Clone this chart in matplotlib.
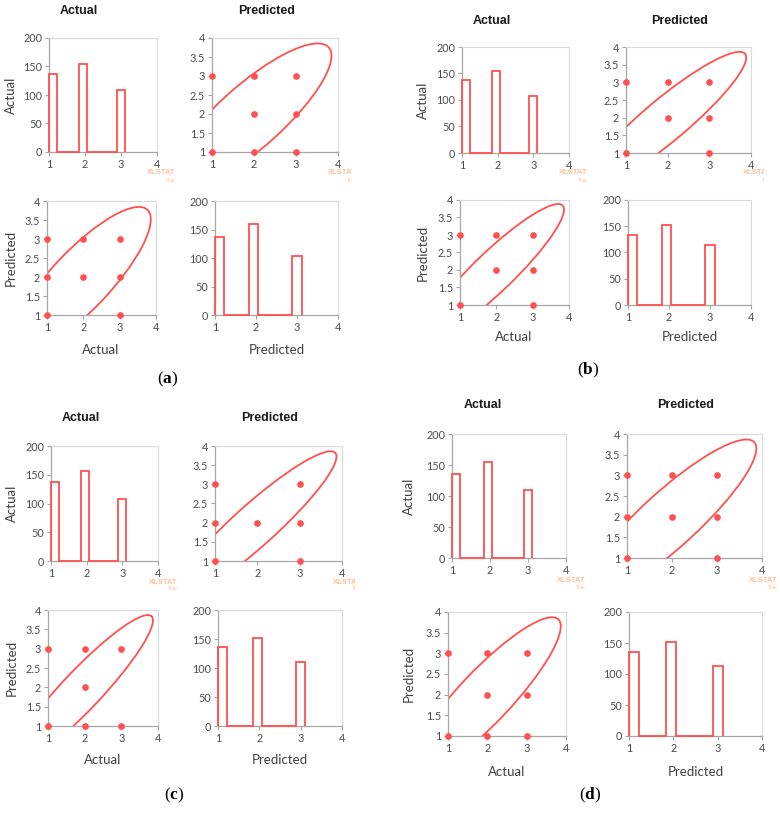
import numpy as np
import matplotlib
matplotlib.use('Agg')
import matplotlib.pyplot as plt
from matplotlib.patches import Ellipse
from matplotlib.ticker import FuncFormatter
from matplotlib.transforms import Bbox, TransformedBbox

# ---------------- data ----------------
class_values = [1, 2, 3]
bin_edges = [1.0, 1.22, 1.84, 2.06, 2.89, 3.11]
x_ticks = [1, 2, 3, 4]
hist_yticks = [0, 50, 100, 150, 200]
scatter_yticks = [1, 1.5, 2, 2.5, 3, 3.5, 4]

actual_counts_a = [137, 155, 108]
predicted_counts_a = [137, 160, 103]
actual_counts_b = [137, 155, 108]
predicted_counts_b = [134, 152, 114]
actual_counts_c = [137, 156, 107]
predicted_counts_c = [137, 152, 110]
actual_counts_d = [135, 155, 110]
predicted_counts_d = [135, 152, 113]

pair_actual_a = [1, 2, 3, 1, 2, 3, 1, 3]
pair_predicted_a = [3, 3, 3, 2, 2, 2, 1, 1]
pair_actual_b = [1, 2, 3, 2, 3, 1, 3]
pair_predicted_b = [3, 3, 3, 2, 2, 1, 1]
pair_actual_c = [1, 2, 3, 2, 1, 2, 3]
pair_predicted_c = [3, 3, 3, 2, 1, 1, 1]
pair_actual_d = [1, 2, 3, 2, 3, 1, 2, 3]
pair_predicted_d = [3, 3, 3, 2, 2, 1, 1, 1]

# confidence ellipse semi-axes (major, minor), rotated 45 degrees
ellipse_major = [2.61, 2.68, 2.69, 2.65]
ellipse_minor = [0.795, 0.56, 0.52, 0.65]
ellipse_angle = 45

panel_letters = ['a', 'b', 'c', 'd']
col_titles = ['Actual', 'Predicted']

# ---------------- layout (pixels) ----------------
W, H = 780, 813
layout = {
    'a': dict(TL=(49, 38, 157, 152), TR=(212, 38, 338, 152), BL=(47, 201, 156, 315), BR=(215, 201, 338, 315),
              title_y=11, title_x=(79, 267), ylab_x=11, xlab_y=350, xlab_x=(101, 277), tag=(168, 379),
              wm=((161, 173), (342, 173)), wm_clip=352),
    'b': dict(TL=(462, 47, 569, 153), TR=(626, 47, 751, 153), BL=(460, 200, 569, 305), BR=(628, 200, 751, 305),
              title_y=21, title_x=(492, 680), ylab_x=423, xlab_y=337, xlab_x=(514, 690), tag=(588, 370),
              wm=((573, 173), (757, 173)), wm_clip=764),
    'c': dict(TL=(51, 446, 158, 561), TR=(215, 446, 342, 561), BL=(48, 610, 158, 726), BR=(218, 610, 342, 726),
              title_y=418, title_x=(81, 270), ylab_x=12, xlab_y=760, xlab_x=(103, 280), tag=(174, 795),
              wm=((163, 582), (347, 582)), wm_clip=355),
    'd': dict(TL=(452, 434, 566, 558), TR=(627, 434, 762, 558), BL=(448, 612, 566, 736), BR=(629, 612, 762, 736),
              title_y=405, title_x=(483, 686), ylab_x=409, xlab_y=772, xlab_x=(507, 696), tag=(590, 795),
              wm=((571, 580), (763, 580)), wm_clip=780),
}

RED = '#ff5050'
TICK_FONT = 'Lato'
LABEL_FONT = 'Lato'

plt.rcParams['mathtext.fontset'] = 'custom'
plt.rcParams['mathtext.rm'] = 'Liberation Serif'
plt.rcParams['mathtext.bf'] = 'Liberation Serif:bold'

fig = plt.figure(figsize=(W / 100, H / 100), dpi=100)
fig.patch.set_facecolor('white')


def fx(x):
    return x / W


def fy(y):
    return 1 - y / H


def add_ax(box):
    l, t, r, b = box
    return fig.add_axes([l / W, 1 - b / H, (r - l) / W, (b - t) / H])


fmt = FuncFormatter(lambda v, p: f'{v:g}')


def style(ax, ylim, yticks):
    ax.set_xlim(1, 4)
    ax.set_ylim(*ylim)
    ax.set_xticks(x_ticks)
    ax.set_yticks(yticks)
    ax.xaxis.set_major_formatter(fmt)
    ax.yaxis.set_major_formatter(fmt)
    for s in ['top', 'right']:
        ax.spines[s].set_color('#d9d9d9')
        ax.spines[s].set_linewidth(0.8)
    for s in ['left', 'bottom']:
        ax.spines[s].set_color('#a6a6a6')
        ax.spines[s].set_linewidth(0.9)
    ax.tick_params(direction='out', length=3, width=0.8, color='#a6a6a6',
                   labelsize=7.8, labelcolor='#4d4d4d', pad=2)
    for lab in ax.get_xticklabels() + ax.get_yticklabels():
        lab.set_fontfamily(TICK_FONT)
    ax.set_facecolor('white')


def draw_hist(ax, counts):
    vals = [counts[0], 0, counts[1], 0, counts[2]]
    ax.stairs(vals, bin_edges, baseline=0, color=RED, lw=1.3, clip_on=False, zorder=3)
    style(ax, (0, 200), hist_yticks)


def draw_scatter(ax, xs, ys, cx, cy, a, b):
    style(ax, (1, 4), scatter_yticks)
    e = Ellipse((cx, cy), 2 * a, 2 * b, angle=ellipse_angle, fill=False,
                edgecolor=RED, lw=1.3, zorder=2)
    ax.add_patch(e)
    ax.plot(xs, ys, 'o', ms=3.8, color=RED, mec=RED, clip_on=False, zorder=4)


data = {
    'a': (actual_counts_a, predicted_counts_a, pair_actual_a, pair_predicted_a),
    'b': (actual_counts_b, predicted_counts_b, pair_actual_b, pair_predicted_b),
    'c': (actual_counts_c, predicted_counts_c, pair_actual_c, pair_predicted_c),
    'd': (actual_counts_d, predicted_counts_d, pair_actual_d, pair_predicted_d),
}

for i, p in enumerate(panel_letters):
    L = layout[p]
    act_c, pred_c, pa, pp = data[p]
    mean_act = np.dot(class_values, act_c) / np.sum(act_c)
    mean_pred = np.dot(class_values, pred_c) / np.sum(pred_c)

    ax_tl = add_ax(L['TL'])
    draw_hist(ax_tl, act_c)
    ax_tr = add_ax(L['TR'])
    draw_scatter(ax_tr, pp, pa, mean_pred, mean_act, ellipse_major[i], ellipse_minor[i])
    ax_bl = add_ax(L['BL'])
    draw_scatter(ax_bl, pa, pp, mean_act, mean_pred, ellipse_major[i], ellipse_minor[i])
    ax_br = add_ax(L['BR'])
    draw_hist(ax_br, pred_c)

    # column titles
    for t, x in zip(col_titles, L['title_x']):
        fig.text(fx(x), fy(L['title_y']), t, ha='center', va='center', fontsize=9,
                 fontweight='bold', family='Liberation Sans', color='#1a1a1a')
    # row labels
    for box, t in [(L['TL'], 'Actual'), (L['BL'], 'Predicted')]:
        l, t_, r, b = box
        fig.text(fx(L['ylab_x']), fy((t_ + b) / 2), t, rotation=90, ha='center', va='center',
                 fontsize=9.5, family=LABEL_FONT, color='#404040')
    # x labels
    for t, x in zip(col_titles, L['xlab_x']):
        fig.text(fx(x), fy(L['xlab_y']), t, ha='center', va='center', fontsize=9.5,
                 family=LABEL_FONT, color='#404040')
    # panel tag
    fig.text(fx(L['tag'][0]), fy(L['tag'][1]), r'$\mathrm{(}\mathbf{' + p + r'}\mathrm{)}$',
             ha='center', va='center', fontsize=12.5, color='black')
    # watermarks
    clip = TransformedBbox(Bbox.from_extents(0, 0, L['wm_clip'] / W, 1), fig.transFigure)
    for (wx, wy) in L['wm']:
        t1 = fig.text(fx(wx), fy(wy), 'XLSTAT', ha='center', va='center', fontsize=5.5,
                      fontweight='bold', family='Liberation Sans', color='#ffc09a')
        t2 = fig.text(fx(wx + 10), fy(wy + 7), 'Trial', ha='center', va='center', fontsize=3.5,
                      family='Liberation Sans', color='#ffc09a')
        for t in (t1, t2):
            t.set_clip_box(clip)
            t.set_clip_on(True)

fig.savefig('out.png', dpi=100, facecolor='white')
